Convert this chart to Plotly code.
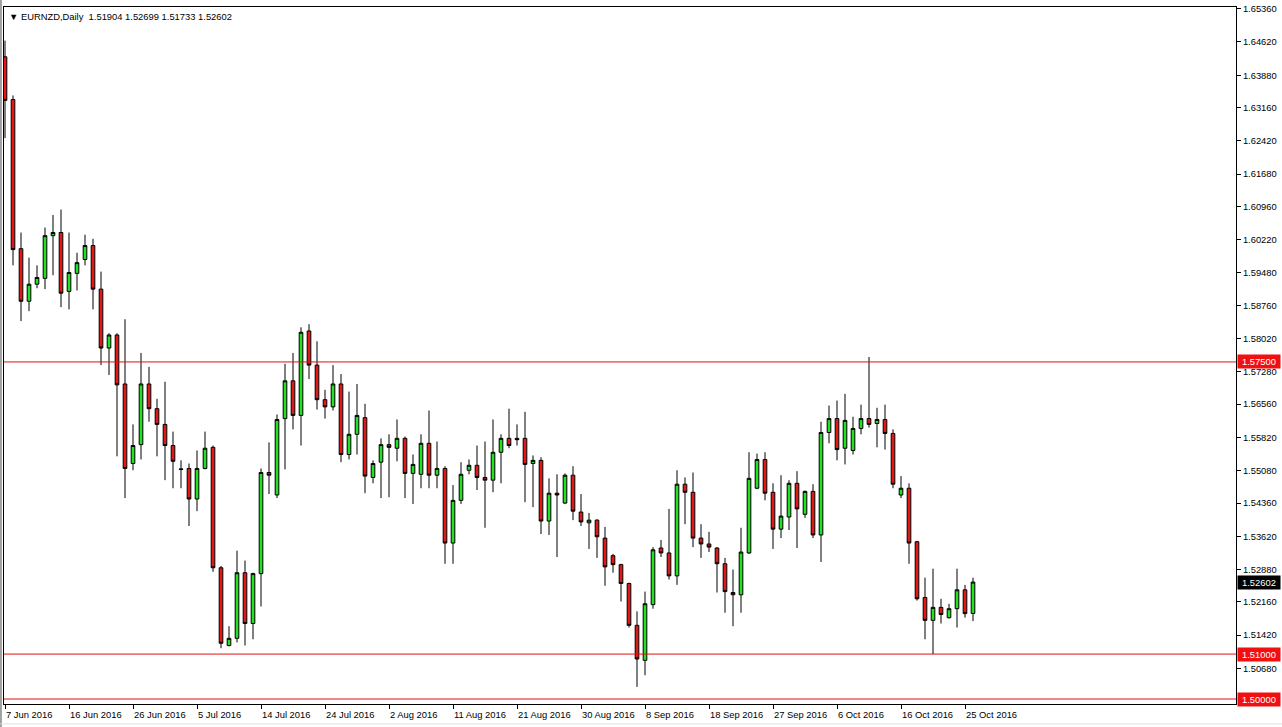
import datetime as dt
import plotly.graph_objects as go

symbol = "EURNZD,Daily"
first_day = dt.date(2016, 6, 7)
n_bars = 122

open_ = [1.6429, 1.6334, 1.6002, 1.5885, 1.5923, 1.5936, 1.6031, 1.6038, 1.5907, 1.5947,
         1.5978, 1.6009, 1.5912, 1.5781, 1.5810, 1.5701, 1.5524, 1.5566, 1.5701, 1.5646,
         1.5611, 1.5564, 1.5512, 1.5513, 1.5445, 1.5513, 1.5560, 1.5292, 1.5119, 1.5135,
         1.5281, 1.5168, 1.5279, 1.5504, 1.5454, 1.5624, 1.5708, 1.5631, 1.5819, 1.5743,
         1.5666, 1.5650, 1.5701, 1.5544, 1.5589, 1.5626, 1.5493, 1.5527, 1.5566, 1.5558,
         1.5580, 1.5502, 1.5500, 1.5569, 1.5498, 1.5513, 1.5347, 1.5442, 1.5509, 1.5520,
         1.5493, 1.5487, 1.5549, 1.5580, 1.5580, 1.5580, 1.5524, 1.5531, 1.5396, 1.5458,
         1.5436, 1.5498, 1.5416, 1.5392, 1.5398, 1.5358, 1.5319, 1.5299, 1.5257, 1.5164,
         1.5086, 1.5210, 1.5336, 1.5325, 1.5274, 1.5478, 1.5460, 1.5358, 1.5345, 1.5336,
         1.5301, 1.5237, 1.5232, 1.5325, 1.5469, 1.5533, 1.5460, 1.5378, 1.5405, 1.5480,
         1.5411, 1.5462, 1.5365, 1.5593, 1.5624, 1.5558, 1.5553, 1.5602, 1.5624, 1.5613,
         1.5622, 1.5591, 1.5454, 1.5469, 1.5350, 1.5226, 1.5175, 1.5204, 1.5181, 1.5201,
         1.5243, 1.51904]
high = [1.6465, 1.6343, 1.6038, 1.5982, 1.5965, 1.6049, 1.6077, 1.6089, 1.6038, 1.5993,
        1.6033, 1.6024, 1.5951, 1.5814, 1.5814, 1.5845, 1.5611, 1.5770, 1.5739, 1.5668,
        1.5706, 1.5595, 1.5531, 1.5524, 1.5553, 1.5595, 1.5564, 1.5296, 1.5162, 1.5330,
        1.5308, 1.5281, 1.5513, 1.5571, 1.5633, 1.5746, 1.5770, 1.5827, 1.5834, 1.5796,
        1.5688, 1.5743, 1.5723, 1.5684, 1.5701, 1.5657, 1.5531, 1.5580, 1.5589, 1.5622,
        1.5584, 1.5544, 1.5589, 1.5642, 1.5573, 1.5518, 1.5476, 1.5527, 1.5533, 1.5564,
        1.5573, 1.5622, 1.5589, 1.5646, 1.5611, 1.5639, 1.5542, 1.5538, 1.5491, 1.5500,
        1.5502, 1.5518, 1.5456, 1.5414, 1.5400, 1.5383, 1.5323, 1.5301, 1.5259, 1.5195,
        1.5239, 1.5338, 1.5354, 1.5423, 1.5509, 1.5493, 1.5504, 1.5389, 1.5372, 1.5338,
        1.5314, 1.5288, 1.5381, 1.5549, 1.5546, 1.5549, 1.5480, 1.5498, 1.5487, 1.5507,
        1.5464, 1.5478, 1.5617, 1.5653, 1.5664, 1.5679, 1.5628, 1.5655, 1.5761, 1.5648,
        1.5655, 1.5600, 1.5496, 1.5480, 1.5352, 1.5270, 1.5290, 1.5223, 1.5212, 1.5290,
        1.5254, 1.52699]
low = [1.6248, 1.5965, 1.5841, 1.5863, 1.5914, 1.5912, 1.5943, 1.5872, 1.5867, 1.5909,
       1.5965, 1.5867, 1.5743, 1.5721, 1.5540, 1.5447, 1.5509, 1.5533, 1.5617, 1.5540,
       1.5487, 1.5469, 1.5469, 1.5385, 1.5418, 1.5511, 1.5283, 1.5113, 1.5117, 1.5126,
       1.5119, 1.5133, 1.5206, 1.5456, 1.5447, 1.5511, 1.5600, 1.5564, 1.5712, 1.5644,
       1.5624, 1.5642, 1.5527, 1.5533, 1.5544, 1.5458, 1.5480, 1.5447, 1.5449, 1.5529,
       1.5447, 1.5434, 1.5469, 1.5469, 1.5469, 1.5301, 1.5301, 1.5434, 1.5500, 1.5465,
       1.5381, 1.5460, 1.5480, 1.5558, 1.5564, 1.5438, 1.5427, 1.5367, 1.5365, 1.5316,
       1.5434, 1.5398, 1.5385, 1.5334, 1.5314, 1.5252, 1.5281, 1.5217, 1.5159, 1.5027,
       1.5053, 1.5201, 1.5316, 1.5266, 1.5254, 1.5389, 1.5338, 1.5314, 1.5327, 1.5237,
       1.5192, 1.5162, 1.5192, 1.5323, 1.5467, 1.5442, 1.5334, 1.5358, 1.5376, 1.5336,
       1.5403, 1.5358, 1.5305, 1.5569, 1.5531, 1.5522, 1.5544, 1.5589, 1.5604, 1.5560,
       1.5555, 1.5469, 1.5447, 1.5301, 1.5219, 1.5133, 1.5100, 1.5168, 1.5179, 1.5159,
       1.5181, 1.51733]
close = [1.6332, 1.6000, 1.5885, 1.5923, 1.5938, 1.6031, 1.6038, 1.5903, 1.5949, 1.5971,
         1.6009, 1.5912, 1.5781, 1.5810, 1.5699, 1.5513, 1.5564, 1.5701, 1.5646, 1.5611,
         1.5564, 1.5529, 1.5511, 1.5445, 1.5513, 1.5558, 1.5292, 1.5124, 1.5135, 1.5281,
         1.5168, 1.5279, 1.5504, 1.5498, 1.5622, 1.5708, 1.5631, 1.5816, 1.5743, 1.5666,
         1.5650, 1.5701, 1.5544, 1.5589, 1.5631, 1.5496, 1.5524, 1.5566, 1.5560, 1.5580,
         1.5502, 1.5522, 1.5569, 1.5498, 1.5513, 1.5347, 1.5442, 1.5500, 1.5520, 1.5493,
         1.5487, 1.5549, 1.5580, 1.5564, 1.5577, 1.5522, 1.5531, 1.5396, 1.5458, 1.5454,
         1.5498, 1.5418, 1.5394, 1.5398, 1.5361, 1.5294, 1.5299, 1.5257, 1.5164, 1.5089,
         1.5212, 1.5332, 1.5325, 1.5274, 1.5478, 1.5460, 1.5358, 1.5345, 1.5338, 1.5301,
         1.5239, 1.5232, 1.5327, 1.5491, 1.5533, 1.5458, 1.5378, 1.5407, 1.5480, 1.5423,
         1.5462, 1.5365, 1.5593, 1.5624, 1.5555, 1.5620, 1.5602, 1.5624, 1.5611, 1.5622,
         1.5591, 1.5478, 1.5469, 1.5347, 1.5223, 1.5175, 1.5204, 1.5188, 1.5201, 1.5243,
         1.5190, 1.52602]

price_ticks = [1.65360, 1.64620, 1.63880, 1.63160, 1.62420, 1.61680, 1.60960, 1.60220,
               1.59480, 1.58760, 1.58020, 1.57280, 1.56560, 1.55820, 1.55080, 1.54360,
               1.53620, 1.52880, 1.52160, 1.51420, 1.50680]
levels = [1.57500, 1.51000, 1.50000]
date_label_every = 8

# Sun-Fri trading calendar (no Saturday bars)
dates = []
d = first_day
while len(dates) < n_bars:
    if d.weekday() != 5:
        dates.append(d)
    d += dt.timedelta(days=1)
xcat = [x.isoformat() for x in dates]
label_idx = list(range(0, n_bars, date_label_every))
label_x = [xcat[i] for i in label_idx]
label_txt = [f"{dates[i].day} {dates[i].strftime('%b')} {dates[i].year}" for i in label_idx]

FONT = "Liberation Sans"
FS = 9.4
GREEN = "#22E022"
RED = "#E01818"
LEVEL = "#E01010"

fig = go.Figure()
fig.add_trace(go.Candlestick(
    x=xcat, open=open_, high=high, low=low, close=close,
    increasing=dict(line=dict(color="black", width=1), fillcolor=GREEN),
    decreasing=dict(line=dict(color="black", width=1), fillcolor=RED),
    whiskerwidth=0, showlegend=False, hoverinfo="skip"))

shapes = []
for lv in levels:
    shapes.append(dict(type="line", xref="paper", x0=0, x1=1, yref="y", y0=lv, y1=lv,
                       line=dict(color=LEVEL, width=1), layer="above"))
# window borders
shapes.append(dict(type="line", xref="paper", yref="paper", x0=-0.0025, x1=-0.0025,
                   y0=-0.04, y1=1.01, line=dict(color="#A0A0A0", width=2)))
shapes.append(dict(type="line", xref="paper", yref="paper", x0=-0.003, x1=1.04,
                   y0=-0.0285, y1=-0.0285, line=dict(color="#E0E0E0", width=1)))

ann = []
ann.append(dict(xref="paper", yref="paper", x=0, y=1, xanchor="left", yanchor="top",
                xshift=3, yshift=-2, showarrow=False,
                text=f"\u25bc {symbol}  {open_[-1]:.5f} {high[-1]:.5f} {low[-1]:.5f} {close[-1]:.5f}",
                font=dict(family=FONT, size=FS, color="black")))
for lx, lt in zip(label_x, label_txt):
    ann.append(dict(xref="x", yref="paper", x=lx, y=0, xanchor="left", yanchor="top",
                    xshift=-1, yshift=-3, showarrow=False, text=lt,
                    font=dict(family=FONT, size=FS, color="black")))
for lv in levels:
    ann.append(dict(xref="paper", yref="y", x=1, y=lv, xanchor="left", yanchor="middle",
                    xshift=1, showarrow=False, text=f"{lv:.5f}", bgcolor="#F01010",
                    borderpad=1, width=40, align="center",
                    font=dict(family=FONT, size=FS, color="white")))
ann.append(dict(xref="paper", yref="y", x=1, y=close[-1], xanchor="left", yanchor="middle",
                xshift=1, showarrow=False, text=f"{close[-1]:.5f}", bgcolor="black",
                borderpad=1, width=40, align="center",
                font=dict(family=FONT, size=FS, color="white")))

fig.update_layout(
    width=1282, height=727,
    margin=dict(l=4, r=46, t=3, b=23),
    paper_bgcolor="white", plot_bgcolor="white",
    boxgap=0.35,
    shapes=shapes, annotations=ann,
    xaxis=dict(type="category", range=[-0.125, 153.875], rangeslider=dict(visible=False),
               showgrid=False, showline=True, linecolor="black", linewidth=1, mirror=True,
               ticks="outside", ticklen=4, tickcolor="black", tickvals=label_x,
               showticklabels=False, zeroline=False, fixedrange=True),
    yaxis=dict(side="right", range=[1.49889, 1.65398], showgrid=False, showline=True,
               linecolor="black", linewidth=1, mirror=True, ticks="outside", ticklen=4,
               tickcolor="black", tickvals=price_ticks,
               ticktext=[f"{v:.5f}" for v in price_ticks], ticklabeloverflow="allow",
               tickfont=dict(family=FONT, size=FS, color="black"), zeroline=False),
)

fig.write_html("out.html", config={"displayModeBar": False},
               post_script="document.body.style.margin='0px';document.body.style.padding='0px';")
